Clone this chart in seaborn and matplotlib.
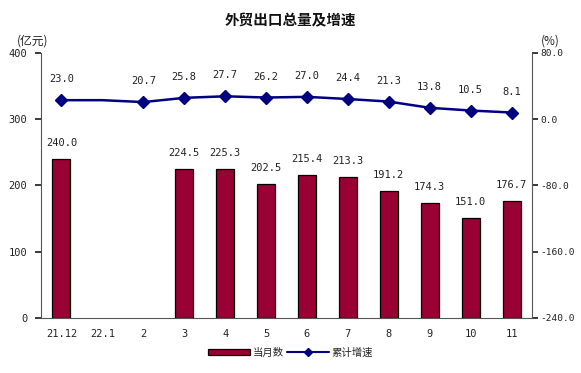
import matplotlib
matplotlib.use("Agg")
import matplotlib.pyplot as plt
import numpy as np
import pandas as pd
import seaborn as sns
from matplotlib.lines import Line2D
from matplotlib.patches import Patch

# 数据
months = ["21.12", "22.1", "2", "3", "4", "5", "6", "7", "8", "9", "10", "11"]
monthly = [240.0, np.nan, np.nan, 224.5, 225.3, 202.5, 215.4, 213.3, 191.2, 174.3, 151.0, 176.7]
growth = [23.0, 23.0, 20.7, 25.8, 27.7, 26.2, 27.0, 24.4, 21.3, 13.8, 10.5, 8.1]
growth_labeled = [True, False, True, True, True, True, True, True, True, True, True, True]
right_ticks = [-240, -160, -80, 0, 80]

BAR_COLOR = "#990033"
LINE_COLOR = "#000080"
NUM_FONT = ["DejaVu Sans Mono", "Noto Sans CJK SC"]
TXT = "#222222"

sns.set_theme(style="white")
plt.rcParams["font.family"] = ["Noto Sans CJK SC", "DejaVu Sans"]

fig = plt.figure(figsize=(5.81, 3.73), dpi=100)
ax = fig.add_axes([0.0706, 0.1475, 0.845, 0.7105])

df = pd.DataFrame({"month": months, "monthly": monthly})
sns.barplot(data=df, x="month", y="monthly", order=months, color=BAR_COLOR,
            saturation=1, width=0.44, edgecolor="black", linewidth=0.9, ax=ax)

for i, v in enumerate(monthly):
    if not np.isnan(v):
        ax.annotate(f"{v:.1f}", (i, v), xytext=(0, 11.5), textcoords="offset points",
                    ha="center", va="center", fontsize=7.5, color=TXT, family=NUM_FONT)

ax.set_xlim(-0.5, 11.5)
ax.set_ylim(0, 400)
ax.set_yticks([0, 100, 200, 300, 400])
ax.set_xlabel("")
ax.set_ylabel("")
ax.set_xticks(np.arange(12))
ax.set_xticklabels(months)
ax.tick_params(axis="x", length=0, labelsize=7.5, pad=8, colors=TXT)
ax.tick_params(axis="y", length=4, direction="out", labelsize=7.5, colors=TXT, pad=6)
ax.set_xticks(np.arange(-0.5, 12, 1), minor=True)
ax.tick_params(axis="x", which="minor", length=4, direction="in", color="#444444")

ax2 = ax.twinx()
xs = np.arange(12)
ax2.plot(xs, growth, color=LINE_COLOR, linewidth=1.8, marker="D", markersize=6,
         markevery=[i for i, f in enumerate(growth_labeled) if f], zorder=5)
for i, (v, f) in enumerate(zip(growth, growth_labeled)):
    if f:
        ax2.annotate(f"{v:.1f}", (i, v), xytext=(0, 15), textcoords="offset points",
                     ha="center", va="center", fontsize=7.5, color=TXT, family=NUM_FONT)
ax2.set_ylim(-240, 80)
ax2.set_yticks(right_ticks)
ax2.set_yticklabels([f"{t:.1f}" for t in right_ticks])
ax2.tick_params(axis="y", length=4, direction="out", labelsize=6.8, colors=TXT, pad=2)

for lbl in ax.get_xticklabels() + ax.get_yticklabels() + ax2.get_yticklabels():
    lbl.set_family(NUM_FONT)

for a in (ax, ax2):
    a.spines["top"].set_visible(False)
    for s in ("left", "right", "bottom"):
        a.spines[s].set_color("#555555")
        a.spines[s].set_linewidth(0.8)
ax.spines["right"].set_visible(False)
ax2.spines["left"].set_visible(False)
ax2.spines["bottom"].set_visible(False)

fig.text(0.5, 0.945, "外贸出口总量及增速", ha="center", va="center", fontsize=10.5,
         fontweight="bold", color="#111111")
fig.text(0.057, 0.89, "(亿元)", ha="center", va="center", fontsize=8.5, color=TXT)
fig.text(0.948, 0.89, "(%)", ha="center", va="center", fontsize=8.5, color=TXT)

handles = [Patch(facecolor=BAR_COLOR, edgecolor="black", linewidth=0.9),
           Line2D([0], [0], color=LINE_COLOR, linewidth=1.5, marker="D", markersize=4)]
fig.legend(handles, ["当月数", "累计增速"], loc="center", bbox_to_anchor=(0.5, 0.055),
           ncol=2, frameon=False, fontsize=7.5, handlelength=4.0, handleheight=0.6,
           handletextpad=0.3, columnspacing=0.3)

fig.savefig("out.png", dpi=100)
